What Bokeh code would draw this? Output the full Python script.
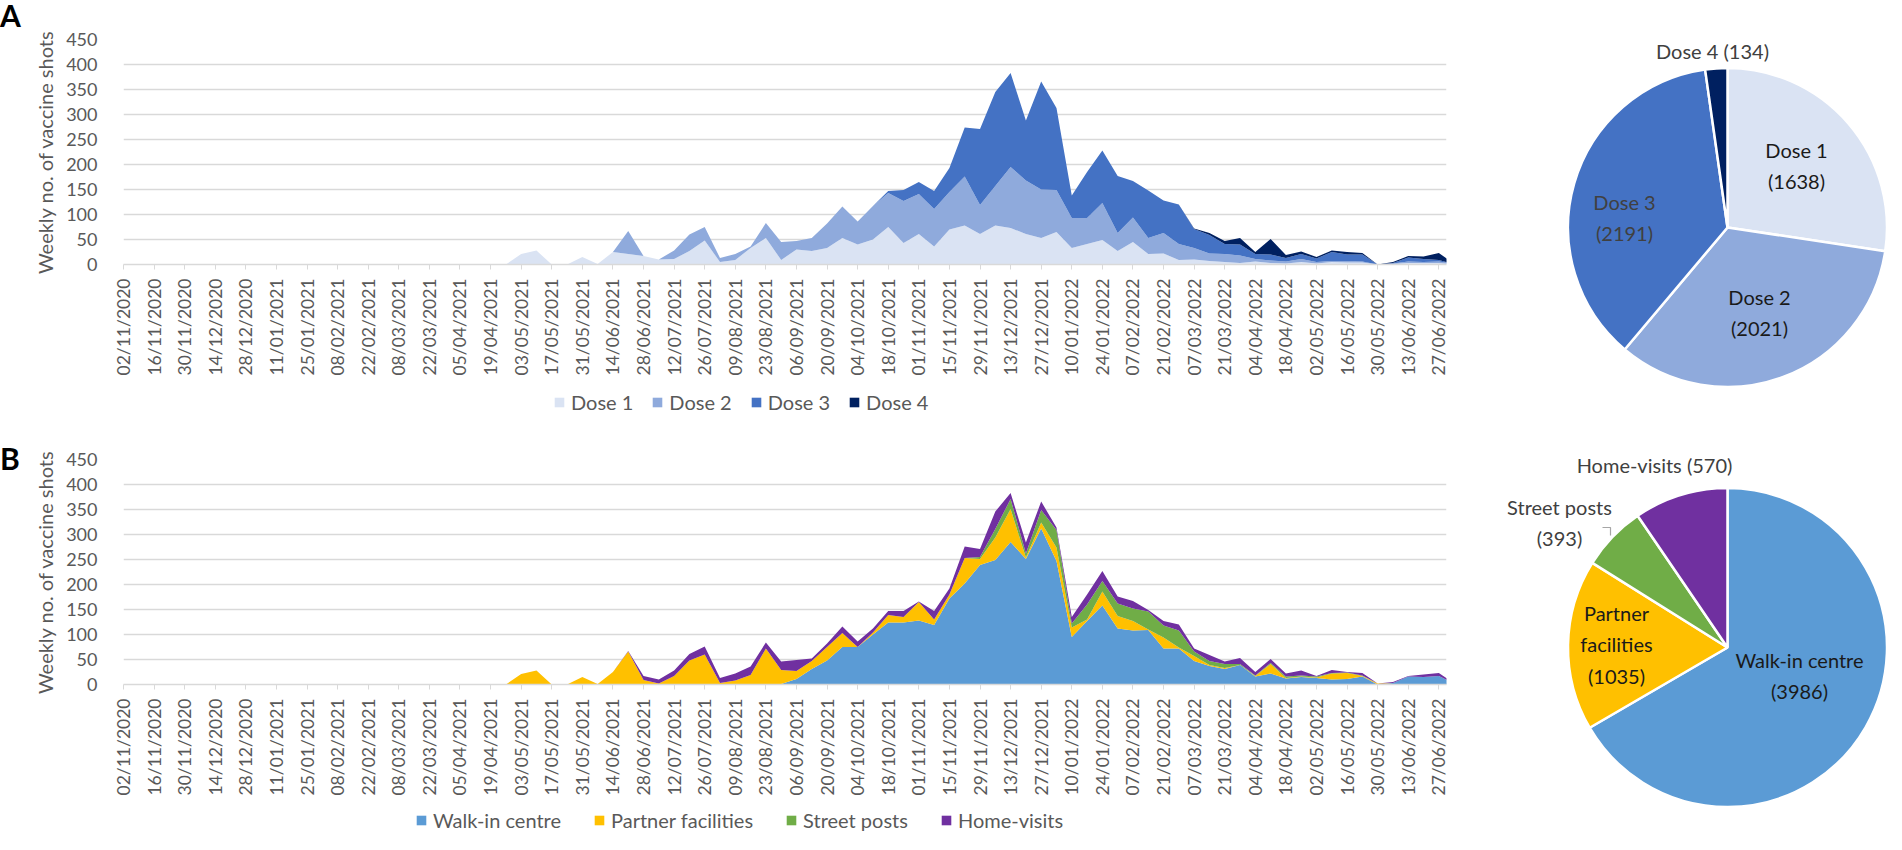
from math import pi
from bokeh.plotting import figure
from bokeh.models import Range1d, FixedTicker, Legend, LegendItem, ColumnDataSource, Div
from bokeh.layouts import row, column
from bokeh.embed import file_html
from bokeh.resources import INLINE
from bokeh.core.properties import value

# ---------------- data ----------------
weeks = list(range(88))  # week index from 02/11/2020

tick_labels = [
    "02/11/2020", "16/11/2020", "30/11/2020", "14/12/2020", "28/12/2020", "11/01/2021",
    "25/01/2021", "08/02/2021", "22/02/2021", "08/03/2021", "22/03/2021", "05/04/2021",
    "19/04/2021", "03/05/2021", "17/05/2021", "31/05/2021", "14/06/2021", "28/06/2021",
    "12/07/2021", "26/07/2021", "09/08/2021", "23/08/2021", "06/09/2021", "20/09/2021",
    "04/10/2021", "18/10/2021", "01/11/2021", "15/11/2021", "29/11/2021", "13/12/2021",
    "27/12/2021", "10/01/2022", "24/01/2022", "07/02/2022", "21/02/2022", "07/03/2022",
    "21/03/2022", "04/04/2022", "18/04/2022", "02/05/2022", "16/05/2022", "30/05/2022",
    "13/06/2022", "27/06/2022",
]

dose1 = [
    0, 0, 0, 0, 0, 0, 0, 0, 0, 0,
    0, 0, 0, 0, 0, 0, 1, 0, 0, 0,
    0, 0, 0, 0, 0, 0, 21, 28, 0, 0,
    15, 1, 25, 21, 17, 10, 11, 27, 48, 5,
    9, 33, 53, 9, 30, 27, 33, 53, 40, 50,
    75, 43, 61, 36, 70, 78, 61, 78, 73, 61,
    53, 65, 33, 41, 49, 27, 45, 21, 22, 9,
    10, 7, 5, 3, 6, 3, 2, 5, 2, 5,
    4, 4, 0, 1, 3, 3, 3, 0,
]
dose2 = [
    0, 0, 0, 0, 0, 0, 0, 0, 0, 0,
    0, 0, 0, 0, 0, 0, 0, 0, 0, 0,
    0, 0, 0, 0, 0, 0, 0, 0, 0, 0,
    0, 0, 0, 46, 0, 0, 17, 33, 27, 8,
    12, 3, 30, 36, 17, 26, 49, 63, 46, 67,
    68, 84, 80, 75, 75, 98, 58, 79, 122, 107,
    97, 84, 60, 52, 74, 36, 49, 32, 41, 32,
    23, 15, 16, 15, 5, 5, 4, 6, 3, 2,
    3, 2, 0, 1, 3, 2, 3, 1,
]
dose3 = [
    0, 0, 0, 0, 0, 0, 0, 0, 0, 0,
    0, 0, 0, 0, 0, 0, 0, 0, 0, 0,
    0, 0, 0, 0, 0, 0, 0, 0, 0, 0,
    0, 0, 0, 0, 0, 0, 0, 0, 0, 0,
    0, 0, 0, 0, 0, 0, 0, 0, 0, 0,
    4, 22, 24, 36, 48, 98, 152, 188, 188, 120,
    216, 164, 45, 92, 105, 114, 73, 95, 65, 79,
    38, 37, 20, 22, 10, 12, 7, 10, 7, 18,
    13, 14, 0, 1, 8, 6, 3, 0,
]
dose4 = [
    0, 0, 0, 0, 0, 0, 0, 0, 0, 0,
    0, 0, 0, 0, 0, 0, 0, 0, 0, 0,
    0, 0, 0, 0, 0, 0, 0, 0, 0, 0,
    0, 0, 0, 0, 0, 0, 0, 0, 0, 0,
    0, 0, 0, 0, 0, 0, 0, 0, 0, 0,
    0, 0, 0, 0, 0, 0, 0, 0, 0, 0,
    0, 0, 0, 0, 0, 0, 0, 0, 0, 0,
    1, 4, 6, 13, 4, 31, 6, 5, 3, 3,
    5, 3, 0, 2, 3, 5, 14, 0,
]

walkin = [
    0, 0, 0, 0, 0, 0, 0, 0, 0, 0,
    0, 0, 0, 0, 0, 0, 0, 0, 0, 0,
    0, 0, 0, 0, 0, 0, 0, 0, 0, 0,
    0, 0, 0, 0, 0, 0, 0, 0, 0, 0,
    0, 0, 0, 1, 11, 31, 48, 75, 75, 100,
    124, 124, 128, 119, 172, 202, 239, 249, 285, 251,
    312, 247, 95, 127, 158, 112, 108, 109, 72, 72,
    47, 37, 31, 39, 16, 22, 12, 15, 13, 10,
    11, 16, 0, 3, 16, 15, 17, 2,
]
partner = [
    0, 0, 0, 0, 0, 0, 0, 0, 0, 0,
    0, 0, 0, 0, 0, 0, 1, 0, 0, 0,
    0, 0, 0, 0, 0, 0, 21, 28, 0, 0,
    15, 1, 25, 66, 9, 2, 17, 48, 60, 3,
    8, 19, 72, 28, 16, 16, 27, 28, 0, 4,
    15, 11, 37, 11, 8, 51, 12, 45, 66, 3,
    12, 27, 19, 3, 28, 25, 19, 1, 22, 2,
    10, 2, 2, 0, 1, 19, 1, 1, 1, 12,
    12, 1, 2, 0, 0, 0, 0, 0,
]
street = [
    0, 0, 0, 0, 0, 0, 0, 0, 0, 0,
    0, 0, 0, 0, 0, 0, 0, 0, 0, 0,
    0, 0, 0, 0, 0, 0, 0, 0, 0, 0,
    0, 0, 0, 0, 0, 0, 0, 0, 0, 0,
    0, 0, 0, 0, 0, 0, 0, 0, 0, 0,
    0, 0, 0, 0, 0, 0, 4, 17, 20, 8,
    25, 35, 8, 30, 21, 25, 25, 36, 24, 34,
    9, 8, 8, 2, 1, 2, 3, 2, 2, 1,
    1, 1, 0, 0, 0, 0, 0, 0,
]
home = [
    0, 0, 0, 0, 0, 0, 0, 0, 0, 0,
    0, 0, 0, 0, 0, 0, 0, 0, 0, 0,
    0, 0, 0, 0, 0, 0, 0, 0, 0, 0,
    0, 0, 0, 1, 8, 8, 11, 13, 16, 10,
    14, 17, 12, 17, 22, 5, 7, 13, 11, 8,
    8, 12, 1, 17, 12, 23, 16, 35, 12, 22,
    17, 5, 13, 20, 20, 14, 15, 3, 9, 12,
    6, 12, 5, 12, 7, 8, 6, 10, 1, 6,
    1, 5, 0, 2, 1, 5, 6, 0,
]

dose_names = ["Dose 1", "Dose 2", "Dose 3", "Dose 4"]
dose_totals = [1638, 2021, 2191, 134]
site_names = ["Walk-in centre", "Partner facilities", "Street posts", "Home-visits"]
site_totals = [3986, 1035, 393, 570]
panel_letters = ["A", "B"]

# ---------------- styles ----------------
FONT = "Lato"
GRID = "#D9D9D9"
TXT = "#595959"
dose_colors = ["#DAE3F3", "#8FAADC", "#4472C4", "#002060"]
site_colors = ["#5B9BD5", "#FFC000", "#70AD47", "#7030A0"]
CHART_H = 389
LEG_H = 28


def blank_fig(w, h):
    p = figure(width=w, height=h, x_range=Range1d(0, w), y_range=Range1d(0, h),
               output_backend="svg", toolbar_location=None, min_border=0,
               x_axis_location=None, y_axis_location=None)
    p.outline_line_color = None
    p.grid.visible = False
    return p


def letter_div(letter, top_pad):
    return Div(text=letter, width=30, height=CHART_H,
               styles={"font-family": FONT, "font-size": "30px", "font-weight": "bold",
                       "line-height": "30px", "color": "black", "margin": "0",
                       "padding-top": "%dpx" % top_pad, "box-sizing": "border-box"})


def legend_fig(names, colors, x0, y0, spacing):
    p = blank_fig(1472, LEG_H)
    items = []
    for n, c in zip(names, colors):
        r = p.varea(x=[0, 1], y1=[0, 0], y2=[0, 0], fill_color=c)
        items.append(LegendItem(label=n, renderers=[r]))
    legend = Legend(items=items, location=(x0, y0), orientation="horizontal")
    legend.label_text_font = FONT
    legend.label_text_font_size = "20px"
    legend.label_text_color = TXT
    legend.glyph_width = 12
    legend.glyph_height = 12
    legend.label_height = 18
    legend.label_standoff = 6
    legend.spacing = spacing
    legend.padding = 0
    legend.margin = 0
    legend.border_line_color = None
    legend.background_fill_alpha = 0
    p.add_layout(legend)
    return p


def area_chart(series, colors, top_b):
    keys = ["s%d" % i for i in range(len(series))]
    data = {"x": weeks}
    for k, s in zip(keys, series):
        data[k] = s
    src = ColumnDataSource(data)
    p = figure(width=1442, height=CHART_H, x_range=Range1d(0, 86.5), y_range=Range1d(0, 450),
               output_backend="svg", toolbar_location=None,
               min_border_left=79, min_border_right=26,
               min_border_top=top_b, min_border_bottom=CHART_H - top_b - 225)
    p.outline_line_color = None
    p.varea_stack(stackers=keys, x="x", color=colors, source=src)

    yt = FixedTicker(ticks=list(range(0, 451, 50)))
    p.yaxis.ticker = yt
    p.ygrid.ticker = yt
    p.xgrid.visible = False
    p.ygrid.grid_line_color = GRID
    p.ygrid.grid_line_width = 1.3
    p.yaxis.axis_line_color = None
    p.yaxis.major_tick_line_color = None
    p.yaxis.minor_tick_line_color = None
    p.yaxis.major_label_standoff = 20
    p.yaxis.major_label_text_font = FONT
    p.yaxis.major_label_text_font_size = "18px"
    p.yaxis.major_label_text_color = TXT
    p.yaxis.axis_label = "Weekly no. of vaccine shots"
    p.yaxis.axis_label_text_font = FONT
    p.yaxis.axis_label_text_font_size = "20px"
    p.yaxis.axis_label_text_font_style = "normal"
    p.yaxis.axis_label_text_color = TXT
    p.yaxis.axis_label_standoff = 6

    ticks = [2 * i for i in range(len(tick_labels))]
    p.xaxis.ticker = FixedTicker(ticks=ticks)
    p.xaxis.major_label_overrides = {t: lab for t, lab in zip(ticks, tick_labels)}
    p.xaxis.major_label_orientation = pi / 2
    p.xaxis.axis_line_color = GRID
    p.xaxis.axis_line_width = 1.3
    p.xaxis.major_tick_line_color = GRID
    p.xaxis.major_tick_out = 5
    p.xaxis.major_tick_in = 0
    p.xaxis.minor_tick_line_color = None
    p.xaxis.major_label_standoff = 9
    p.xaxis.major_label_text_font = FONT
    p.xaxis.major_label_text_font_size = "17.5px"
    p.xaxis.major_label_text_color = TXT
    return p


fa = area_chart([dose1, dose2, dose3, dose4], dose_colors, 39)
fb = area_chart([walkin, partner, street, home], site_colors, 42)
la = letter_div(panel_letters[0], 0)
lb = letter_div(panel_letters[1], 26)
ga = legend_fig(dose_names, dose_colors, 553, 3, 18)
gb = legend_fig(site_names, site_colors, 415, 2, 32)


def pie_chart(vals, colors, labels, dx, dy, label_colors, cx, cy, r, leader=None):
    total = float(sum(vals))
    cum = [0.0]
    for v in vals:
        cum.append(cum[-1] + v)
    start = [pi / 2 - 2 * pi * c / total for c in cum[:-1]]
    end = [pi / 2 - 2 * pi * c / total for c in cum[1:]]
    src = ColumnDataSource(dict(start=start, end=end, color=colors))
    p = blank_fig(414, 417)
    p.wedge(x=cx, y=cy, radius=r, start_angle="start", end_angle="end", direction="clock",
            fill_color="color", line_color="white", line_width=2.5, source=src)
    if leader is not None:
        p.line(x=[cx + a for a in leader[0]], y=[cy + b for b in leader[1]],
               line_color="#A6A6A6", line_width=1.2)
    tsrc = ColumnDataSource(dict(x=[cx + a for a in dx], y=[cy + b for b in dy],
                                 text=labels, color=label_colors))
    p.text(x="x", y="y", text="text", text_color="color", source=tsrc,
           text_font=value(FONT), text_font_size=value("20px"),
           text_align="center", text_baseline="middle", text_line_height=1.3)
    return p


pa_labels = ["%s\n(%d)" % (n, v) for n, v in zip(dose_names[:3], dose_totals[:3])] + \
            ["%s (%d)" % (dose_names[3], dose_totals[3])]
pa = pie_chart(dose_totals, dose_colors, pa_labels,
               [69, 32, -103, -15], [62, -85, 10, 177],
               ["#1a1a1a", "#1a1a1a", "#404040", "#404040"], 255, 190, 159.5)

pb_labels = ["Walk-in centre\n(%d)" % site_totals[0],
             "Partner\nfacilities\n(%d)" % site_totals[1],
             "Street posts\n(%d)" % site_totals[2],
             "Home-visits (%d)" % site_totals[3]]
pb = pie_chart(site_totals, site_colors, pb_labels,
               [72, -111, -168, -73], [-28, 3, 125, 183],
               ["#1a1a1a", "#1a1a1a", "#404040", "#404040"], 255, 187, 159.5,
               leader=([-125, -117, -117], [120, 120, 112]))

left = column(row(la, fa), ga, row(lb, fb), gb)
layout = row(left, column(pa, pb))
open("out.html", "w").write(file_html(layout, INLINE))
